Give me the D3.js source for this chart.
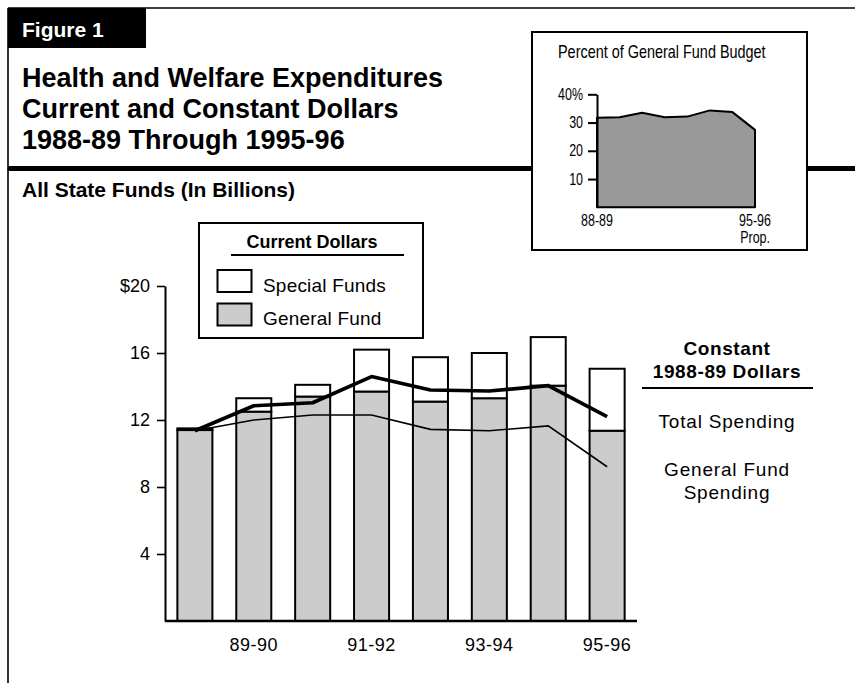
<!DOCTYPE html>
<html>
<head>
<meta charset="utf-8">
<script src="https://cdn.jsdelivr.net/npm/d3@7"></script>
<style>
  html, body { margin: 0; padding: 0; background: #fff; }
  svg { display: block; }
  text { font-family: "Liberation Sans", Arial, Helvetica, sans-serif; fill: #000; }
</style>
</head>
<body>
<script>
// ---- Data ----
const years = ["88-89", "89-90", "90-91", "91-92", "92-93", "93-94", "94-95", "95-96"];
const generalFund = [11.4, 12.5, 13.4, 13.7, 13.1, 13.3, 14.05, 11.36];
const specialFunds = [0.1, 0.8, 0.7, 2.5, 2.65, 2.7, 2.9, 3.7];
const constantTotal = [11.36, 12.85, 13.03, 14.59, 13.79, 13.73, 14.05, 12.2];
const constantGeneral = [11.36, 12.0, 12.3, 12.3, 11.44, 11.36, 11.65, 9.21];
const yTicks = [4, 8, 12, 16, 20];
const xLabelYears = ["89-90", "91-92", "93-94", "95-96"];

const insetPercent = [31.7, 31.9, 33.5, 31.9, 32.1, 34.3, 33.7, 27.4];
const insetTicks = [10, 20, 30, 40];

const W = 855, H = 683;
const NARROW = 0.78;
const svg = d3.select("body").append("svg").attr("width", W).attr("height", H);

// ---- Frame ----
svg.append("line").attr("x1", 8).attr("x2", W).attr("y1", 8).attr("y2", 8)
  .attr("stroke", "#000").attr("stroke-width", 1.6);
svg.append("line").attr("x1", 8).attr("x2", 8).attr("y1", 8).attr("y2", H)
  .attr("stroke", "#000").attr("stroke-width", 1.6);
svg.append("rect").attr("x", 8).attr("y", 8).attr("width", 138).attr("height", 40).attr("fill", "#000");
svg.append("text").attr("x", 22).attr("y", 37).attr("font-size", 21).attr("font-weight", "bold")
  .style("fill", "#fff").text("Figure 1");

const titleLines = ["Health and Welfare Expenditures", "Current and Constant Dollars", "1988-89 Through 1995-96"];
svg.selectAll("text.title").data(titleLines).join("text").attr("class", "title")
  .attr("x", 22).attr("y", (d, i) => 87 + i * 31)
  .attr("font-size", 27).attr("font-weight", "bold").text(d => d);

svg.append("line").attr("x1", 10).attr("x2", W).attr("y1", 168.5).attr("y2", 168.5)
  .attr("stroke", "#000").attr("stroke-width", 5).attr("stroke-linecap", "round");

svg.append("text").attr("x", 22).attr("y", 197).attr("font-size", 21).attr("font-weight", "bold")
  .text("All State Funds (In Billions)");

// ---- Inset ----
function narrowText(parent, x, y, size, txt, anchor) {
  return parent.append("text")
    .attr("transform", `translate(${x},${y}) scale(${NARROW},1)`)
    .attr("font-size", size).attr("text-anchor", anchor || "start").text(txt);
}
svg.append("rect").attr("x", 532).attr("y", 32).attr("width", 275).attr("height", 218)
  .attr("fill", "#fff").attr("stroke", "#000").attr("stroke-width", 2);
narrowText(svg, 558, 58, 18.5, "Percent of General Fund Budget");

const ix = d3.scalePoint().domain(years).range([597, 755]);
const iy = d3.scaleLinear().domain([0, 40]).range([207.3, 94.3]);
const area = d3.area().x((d, i) => ix(years[i])).y0(iy(0)).y1(d => iy(d));
svg.append("path").datum(insetPercent).attr("d", d => area(d) + "Z")
  .attr("fill", "#999").attr("stroke", "#000").attr("stroke-width", 2).attr("stroke-linejoin", "round");

const iAxis = svg.append("g").attr("transform", "translate(597,0)")
  .call(d3.axisLeft(iy).tickValues(insetTicks).tickSize(9).tickSizeOuter(0).tickPadding(5)
    .tickFormat(d => d === 40 ? "40%" : d));
iAxis.select(".domain").attr("stroke-width", 2);
iAxis.selectAll(".tick line").attr("stroke-width", 2);
iAxis.selectAll("text").attr("font-size", 16).attr("font-family", null)
  .attr("x", -14 / NARROW).attr("transform", `scale(${NARROW},1)`);
narrowText(svg, ix("88-89"), 226, 16, "88-89", "middle");
narrowText(svg, ix("95-96"), 226, 16, "95-96", "middle");
narrowText(svg, 770, 243, 16, "Prop.", "end");

// ---- Main chart ----
const x = d3.scaleBand().domain(years).range([165, 637]).paddingInner(0.405).paddingOuter(0.21);
const y = d3.scaleLinear().domain([0, 20]).range([621, 286]);

const rows = years.map((yr, i) => ({ year: yr, general: generalFund[i], special: specialFunds[i] }));
const stack = d3.stack().keys(["general", "special"])(rows);
const fills = { general: "#cccccc", special: "#ffffff" };

svg.append("g").selectAll("g").data(stack).join("g")
  .attr("fill", d => fills[d.key])
  .selectAll("rect").data(d => d).join("rect")
  .attr("x", d => x(d.data.year)).attr("width", x.bandwidth())
  .attr("y", d => y(d[1])).attr("height", d => y(d[0]) - y(d[1]))
  .attr("stroke", "#000").attr("stroke-width", 2);

const line = d3.line().x((d, i) => x(years[i]) + x.bandwidth() / 2).y(d => y(d));
svg.append("path").datum(constantGeneral).attr("d", line)
  .attr("fill", "none").attr("stroke", "#000").attr("stroke-width", 1.6);
svg.append("path").datum(constantTotal).attr("d", line)
  .attr("fill", "none").attr("stroke", "#000").attr("stroke-width", 3.6).attr("stroke-linejoin", "round");

const yAxis = svg.append("g").attr("transform", "translate(165,0)")
  .call(d3.axisLeft(y).tickValues(yTicks).tickSize(8).tickSizeOuter(0).tickPadding(7)
    .tickFormat(d => d === 20 ? "$20" : d));
yAxis.select(".domain").attr("stroke-width", 2);
yAxis.selectAll(".tick line").attr("stroke-width", 1.6);
yAxis.selectAll("text").attr("font-size", 18).attr("font-family", null);

const xAxis = svg.append("g").attr("transform", "translate(0,621)")
  .call(d3.axisBottom(x).tickValues(xLabelYears).tickSize(0).tickSizeOuter(0).tickPadding(17));
xAxis.select(".domain").attr("d", "M165,0H637").attr("stroke-width", 2.4);
xAxis.selectAll("text").attr("font-size", 18).attr("font-family", null).attr("letter-spacing", 0.5);

// ---- Legend ----
svg.append("rect").attr("x", 199).attr("y", 223).attr("width", 224).attr("height", 115)
  .attr("fill", "#fff").attr("stroke", "#000").attr("stroke-width", 2);
svg.append("text").attr("x", 312).attr("y", 248).attr("text-anchor", "middle")
  .attr("font-size", 18).attr("font-weight", "bold").text("Current Dollars");
svg.append("line").attr("x1", 231).attr("x2", 404).attr("y1", 255).attr("y2", 255)
  .attr("stroke", "#000").attr("stroke-width", 2);
const legendItems = [
  { label: "Special Funds", fill: fills.special, y: 270 },
  { label: "General Fund", fill: fills.general, y: 303.5 }
];
const lg = svg.append("g").selectAll("g").data(legendItems).join("g");
lg.append("rect").attr("x", 217.5).attr("y", d => d.y).attr("width", 34).attr("height", 22)
  .attr("fill", d => d.fill).attr("stroke", "#000").attr("stroke-width", 2);
lg.append("text").attr("x", 263).attr("y", d => d.y + 21.5).attr("font-size", 19)
  .attr("letter-spacing", 0.2).text(d => d.label);

// ---- Constant dollars labels ----
const cx = 727;
svg.append("text").attr("x", cx).attr("y", 355).attr("text-anchor", "middle").attr("font-size", 19)
  .attr("font-weight", "bold").attr("letter-spacing", 0.6).text("Constant");
svg.append("text").attr("x", cx).attr("y", 378).attr("text-anchor", "middle").attr("font-size", 19)
  .attr("font-weight", "bold").attr("letter-spacing", 0.6).text("1988-89 Dollars");
svg.append("line").attr("x1", 642).attr("x2", 813).attr("y1", 388).attr("y2", 388)
  .attr("stroke", "#000").attr("stroke-width", 2);
const rightLabels = [["Total Spending", 428], ["General Fund", 476], ["Spending", 499]];
svg.selectAll("text.rl").data(rightLabels).join("text").attr("class", "rl")
  .attr("x", cx).attr("y", d => d[1]).attr("text-anchor", "middle").attr("font-size", 19)
  .attr("letter-spacing", 0.8).text(d => d[0]);
</script>
</body>
</html>
